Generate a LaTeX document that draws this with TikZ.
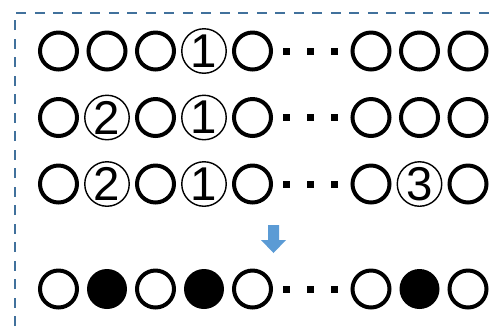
\documentclass[tikz,border=0pt]{standalone}
\usepackage{fontspec}
\setmainfont{Liberation Sans}
\usepackage{tikz}
\usetikzlibrary{positioning}
\definecolor{framecol}{RGB}{65,113,156}
\definecolor{arrowcol}{RGB}{91,155,213}

\begin{document}
\begin{tikzpicture}[x=0.02cm,y=-0.02cm,
  wc/.style={circle,draw,line width=0.08cm,inner sep=0pt,minimum size=0.74cm},
  bc/.style={circle,fill,inner sep=0pt,minimum size=0.8cm},
  nc/.style={circle,draw,line width=0.028cm,inner sep=0pt,minimum size=0.89cm,font=\fontsize{27}{27}\selectfont},
  dotsq/.style={fill,inner sep=0pt,minimum size=0.14cm}]
\useasboundingbox (0,0) rectangle (497,326);
% frame, open to the right and bottom
\draw[framecol,line width=0.052cm,dash pattern=on 0.2cm off 0.17cm] (15,326) -- (15,13) -- (497,13);
% rows: style/number of the eight circles, then the three dots
\foreach \r/\y/\cells in {
  1/51/{wc/{},wc/{},wc/{},nc/1,wc/{},wc/{},wc/{},wc/{}},
  2/117.5/{wc/{},nc/2,wc/{},nc/1,wc/{},wc/{},wc/{},wc/{}},
  3/184/{wc/{},nc/2,wc/{},nc/1,wc/{},wc/{},nc/3,wc/{}},
  4/289/{wc/{},bc/{},wc/{},bc/{},wc/{},wc/{},bc/{},wc/{}}} {
  \foreach \s/\n [count=\i] in \cells {
    \pgfmathsetmacro{\xx}{\i<6 ? 10+48.5*\i : 80+48.5*\i}
    \node[\s] (r\r c\i) at (\xx,\y) {\n};
  }
  \foreach \d in {1,2,3} {\node[dotsq] (r\r d\d) at (262.5+24*\d,\y) {};}
}
% block arrow down to the result row
\fill[arrowcol] (268,225) -- (279,225) -- (279,240) -- (286,240) -- (273.5,253) -- (261,240) -- (268,240) -- cycle;
\end{tikzpicture}
\end{document}
